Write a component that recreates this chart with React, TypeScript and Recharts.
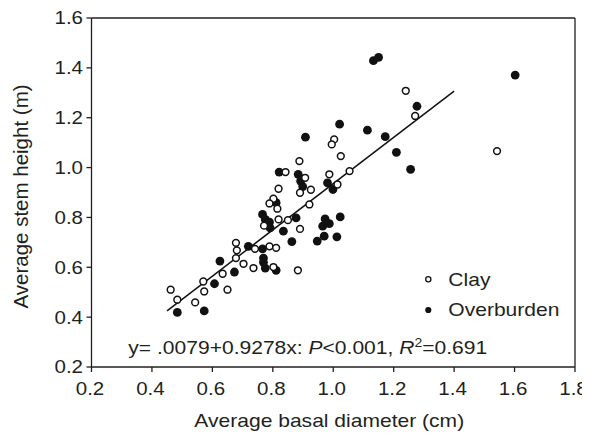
import React from 'react';
import { ScatterChart, Scatter, XAxis, YAxis, ReferenceLine } from 'recharts';

// ---- data ----
const clayDiameter = [
  0.462, 0.484, 0.543, 0.570, 0.573, 0.650, 0.634, 0.703, 0.736, 0.802,
  0.678, 0.681, 0.678, 0.741, 0.789, 0.811, 0.883, 0.819, 0.850, 0.771,
  0.890, 0.802, 0.789, 0.815, 0.819, 0.842, 0.888, 0.907, 0.890, 0.926,
  0.921, 0.987, 1.014, 1.003, 0.995, 1.025, 1.054, 1.240, 1.271, 1.542,
];
const clayHeight = [
  0.510, 0.470, 0.459, 0.543, 0.503, 0.510, 0.574, 0.614, 0.597, 0.601,
  0.698, 0.668, 0.637, 0.674, 0.684, 0.678, 0.588, 0.792, 0.789, 0.767,
  0.754, 0.875, 0.856, 0.835, 0.915, 0.982, 1.026, 0.959, 0.899, 0.911,
  0.852, 0.973, 0.932, 1.113, 1.093, 1.046, 0.986, 1.308, 1.207, 1.066,
];
const overburdenDiameter = [
  0.484, 0.573, 0.607, 0.673, 0.625, 0.719, 0.766, 0.769, 0.769, 0.775,
  0.811, 0.766, 0.775, 0.789, 0.791, 0.877, 0.835, 0.863, 0.947, 0.970,
  1.012, 0.973, 0.965, 0.987, 1.023, 0.811, 0.821, 0.884, 0.892, 0.899,
  0.981, 0.999, 0.908, 1.021, 1.113, 1.172, 1.209, 1.256, 1.277, 1.133,
  1.150, 1.602,
];
const overburdenHeight = [
  0.419, 0.425, 0.534, 0.581, 0.625, 0.684, 0.674, 0.637, 0.620, 0.597,
  0.588, 0.812, 0.792, 0.781, 0.758, 0.798, 0.745, 0.703, 0.705, 0.725,
  0.722, 0.794, 0.765, 0.775, 0.802, 0.859, 0.982, 0.973, 0.946, 0.924,
  0.939, 0.912, 1.122, 1.174, 1.150, 1.124, 1.061, 0.993, 1.246, 1.429,
  1.442, 1.371,
];
const fitLine = [
  { x: 0.45, y: 0.425 },
  { x: 1.40, y: 1.307 },
];
const xTicks = [0.2, 0.4, 0.6, 0.8, 1.0, 1.2, 1.4, 1.6, 1.8];
const yTicks = [0.2, 0.4, 0.6, 0.8, 1.0, 1.2, 1.4, 1.6];
const seriesNames = ['Clay', 'Overburden'];
const xTitle = 'Average basal diameter (cm)';
const yTitle = 'Average stem height (m)';

const clayData = clayDiameter.map((x, i) => ({ x, y: clayHeight[i] }));
const overburdenData = overburdenDiameter.map((x, i) => ({ x, y: overburdenHeight[i] }));

// ---- styling ----
const FONT = '"Liberation Sans", Arial, Helvetica, sans-serif';
const INK = '#231f20';
const SX = 1.17;
const TSX = 1.14;
const W = 582;
const H = 425;

const XTick = (props: any) => {
  const { x, y, payload } = props;
  return (
    <g transform={`translate(${x - 1.5},${y}) scale(${TSX},1)`}>
      <text x={0} y={0} dy="0.71em" textAnchor="middle" fontSize={18} fontFamily={FONT} fill={INK}>
        {Number(payload.value).toFixed(1)}
      </text>
    </g>
  );
};

const YTick = (props: any) => {
  const { x, y, payload } = props;
  return (
    <g transform={`translate(${x},${y}) scale(${TSX},1)`}>
      <text x={0} y={0} dy="0.355em" textAnchor="end" fontSize={18} fontFamily={FONT} fill={INK}>
        {Number(payload.value).toFixed(1)}
      </text>
    </g>
  );
};

const XTitle = (props: any) => {
  const vb = props.viewBox || { x: 83.5, y: 359, width: 483.5 };
  const cx = vb.x + vb.width / 2 - 4;
  const by = vb.y + 60;
  return (
    <g transform={`translate(${cx},${by}) scale(${SX},1)`}>
      <text x={0} y={0} textAnchor="middle" fontSize={18} fontFamily={FONT} fill={INK}>
        {xTitle}
      </text>
    </g>
  );
};

const YTitle = (props: any) => {
  const vb = props.viewBox || { x: 23.5, y: 10, width: 60, height: 349 };
  const cy = vb.y + vb.height / 2 + 4;
  return (
    <text
      x={20}
      y={cy}
      transform={`rotate(-90, 20, ${cy})`}
      textAnchor="middle"
      fontSize={20.5}
      fontFamily={FONT}
      fill={INK}
    >
      {yTitle}
    </text>
  );
};

const OpenDot = (props: any) => (
  <circle cx={props.cx} cy={props.cy} r={3.4} fill="#ffffff" stroke="#111111" strokeWidth={1.5} />
);
const FilledDot = (props: any) => (
  <circle cx={props.cx} cy={props.cy} r={4.4} fill="#111111" stroke="none" />
);

const Overlay = () => (
  <svg
    width={W}
    height={H}
    style={{ position: 'absolute', left: 0, top: 0, pointerEvents: 'none' }}
  >
    <circle cx={420.3} cy={271.3} r={2.6} fill="#fff" stroke="#111" strokeWidth={1.3} />
    <g transform={`translate(440.3,277.7) scale(${SX},1)`}>
      <text x={0} y={0} fontSize={18} fontFamily={FONT} fill={INK}>{seriesNames[0]}</text>
    </g>
    <circle cx={420.3} cy={302} r={3.1} fill="#111" />
    <g transform={`translate(440.3,307.7) scale(${SX},1)`}>
      <text x={0} y={0} fontSize={18} fontFamily={FONT} fill={INK}>{seriesNames[1]}</text>
    </g>
    <g transform={`translate(120.3,345.5) scale(${SX},1)`}>
      <text x={0} y={0} fontSize={18} fontFamily={FONT} fill={INK}>
        <tspan>y= .0079+0.9278x: </tspan>
        <tspan fontStyle="italic">P</tspan>
        <tspan>{'<0.001, '}</tspan>
        <tspan fontStyle="italic">R</tspan>
        <tspan fontSize={12} dy={-7}>2</tspan>
        <tspan dy={7}>=0.691</tspan>
      </text>
    </g>
  </svg>
);

export default function App() {
  return (
    <div style={{ position: 'relative', width: W, height: H }}>
      <style>{`.recharts-wrapper, .recharts-surface { overflow: visible !important; }`}</style>
      <ScatterChart
        width={W}
        height={H}
        style={{ overflow: 'visible' }}
        margin={{ top: 10, right: 15, left: 23.5, bottom: 16 }}
      >
        <XAxis
          type="number"
          dataKey="x"
          domain={[0.2, 1.8]}
          ticks={xTicks}
          interval={0}
          allowDataOverflow
          height={50}
          tickSize={5}
          tickMargin={10}
          axisLine={{ stroke: INK, strokeWidth: 1.3 }}
          tickLine={{ stroke: INK, strokeWidth: 1.3 }}
          tick={<XTick />}
          label={<XTitle />}
        />
        <YAxis
          type="number"
          dataKey="y"
          domain={[0.2, 1.6]}
          ticks={yTicks}
          interval={0}
          allowDataOverflow
          width={60}
          tickSize={5}
          tickMargin={3.5}
          axisLine={{ stroke: INK, strokeWidth: 1.3 }}
          tickLine={{ stroke: INK, strokeWidth: 1.3 }}
          tick={<YTick />}
          label={<YTitle />}
        />
        <ReferenceLine y={1.6} stroke={INK} strokeWidth={1.3} />
        <ReferenceLine x={1.8} stroke={INK} strokeWidth={1.3} />
        <Scatter
          name={seriesNames[1]}
          data={overburdenData}
          shape={<FilledDot />}
          isAnimationActive={false}
        />
        <Scatter
          name={seriesNames[0]}
          data={clayData}
          shape={<OpenDot />}
          isAnimationActive={false}
        />
        <ReferenceLine
          segment={fitLine}
          stroke="#111111"
          strokeWidth={1.5}
        />
      </ScatterChart>
      <Overlay />
    </div>
  );
}
